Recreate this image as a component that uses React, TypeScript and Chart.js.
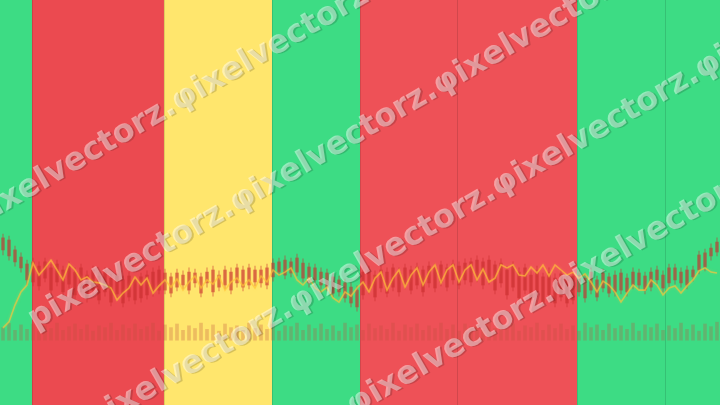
import React, { useEffect, useRef } from "react";
import { Chart, registerables } from "chart.js";

Chart.register(...registerables);

// Regime bands (in candle-index units) and their colours
const bandStarts = [-0.5, 4.83, 26.83, 44.83, 59.5, 95.67];
const bandEnds = [4.83, 26.83, 44.83, 59.5, 95.67, 119.5];
const bandColors = ["#3ddc84", "#eb4a50", "#ffe66d", "#3ddc84", "#ee5157", "#3ddc84"];
const markers = [75.67, 110.33];

const opens = [
  95.7, 95, 91.7, 89.3, 87, 87.7, 86.3, 87.7, 85.7, 87, 85, 86.3, 84.3, 85.7, 83.3, 85, 83, 84.3, 82.3, 83.7, 81.7, 83, 81.7, 82.7, 83.3, 84.3, 85,
  84, 82.7, 84, 83.3, 84.3, 84, 82.7, 84.3, 85, 83.3, 85, 84.3, 85.7, 85, 85.7, 85, 85, 85.7,
  87.3, 87.7, 88.3, 87.7, 89, 87.3, 86, 85.7, 84.3, 84, 82.7, 81.7, 80.7, 79.3, 78.3,
  84.3, 85, 83.3, 85, 84.3, 85.7, 84.3, 85.7, 85, 86, 85, 86.3, 85.7, 86.7, 85.7, 87, 86.3, 87.3, 87.7, 88.3, 87.7, 88.3, 86.7, 87.3, 85, 86.3, 84.3, 85.7, 83.3, 85, 82.7, 84.3, 82.3, 83.7, 81.7, 83,
  83.3, 82.3, 84.3, 81.7, 84, 82.7, 83.3, 84, 82.3, 84.3, 84, 83, 84.3, 85, 83.3, 85.7, 85.7, 84.3, 85, 85, 90, 90.7, 92.3, 94.3,
];
const closes = [
  91.7, 89.7, 87.7, 85.7, 81.7, 81, 79.7, 82.3, 78.3, 81, 77.7, 80.3, 76.7, 79, 75.7, 78.3, 75, 77.7, 74.3, 77, 74, 76, 75, 75.7, 76.7, 77.7, 78.3,
  78.3, 77.3, 79.3, 80, 78.3, 80.7, 77.3, 80.7, 77.7, 79.3, 80, 78.3, 80.7, 79.3, 80, 81, 80.7, 80,
  82.7, 84.3, 83.3, 84, 84.3, 82.3, 80.7, 81.7, 80, 79.3, 77.3, 77.7, 75.7, 74, 72.7,
  76.7, 78.3, 76, 79, 77.3, 79.3, 77.7, 80, 78.3, 80, 77.7, 80.7, 79, 81, 79.3, 81.7, 80, 81.7, 81, 82.3, 80, 81.7, 78.3, 80.7, 76.7, 79.3, 75.7, 78.3, 75, 77.7, 74.3, 76.7, 74, 76, 74, 75,
  77.7, 75.7, 78.3, 76, 79, 77.3, 77.7, 78.3, 77.7, 80, 80, 78.3, 79.3, 81.7, 79, 80.7, 81.7, 80.7, 80, 82.7, 85, 86, 89.7, 91,
];
const highs = [
  97, 96.3, 93, 90.7, 88.3, 89, 87.7, 89, 87, 88.3, 86.3, 87.7, 85.7, 87, 84.7, 86.3, 84.3, 85.7, 83.7, 85, 83, 84.3, 83, 84, 84.7, 85.7, 86.3,
  85.3, 84, 85.3, 84.7, 85.7, 85.3, 84, 85.7, 86.3, 84.7, 86.3, 85.7, 87, 86.3, 87, 86.3, 86.3, 87,
  88.7, 89, 89.7, 89, 90.3, 88.7, 87.3, 87, 85.7, 85.3, 84, 83, 82, 80.7, 79.7,
  85.7, 86.3, 84.7, 86.3, 85.7, 87, 85.7, 87, 86.3, 87.3, 86.3, 87.7, 87, 88, 87, 88.3, 87.7, 88.7, 89, 89.7, 89, 89.7, 88, 88.7, 86.3, 87.7, 85.7, 87, 84.7, 86.3, 84, 85.7, 83.7, 85, 83, 84.3,
  84.7, 83.7, 85.7, 83, 85.3, 84, 84.7, 85.3, 83.7, 85.7, 85.3, 84.3, 85.7, 86.3, 84.7, 87, 87, 85.7, 86.3, 86.3, 91.3, 92, 93.7, 95.7,
];
const lows = [
  90, 88.3, 86.3, 84.3, 80, 79.7, 78.3, 81, 77, 79.7, 76.3, 79, 75.3, 77.7, 74.3, 77, 73.7, 76.3, 73, 75.7, 72.7, 74.7, 73.7, 74.3, 75.3, 76.3, 77,
  77, 76, 78, 78.7, 77, 79.3, 76, 79.3, 76.3, 78, 78.7, 77, 79.3, 78, 78.7, 79.7, 79.3, 78.7,
  81.3, 83, 82, 82.7, 83, 81, 79.3, 80.3, 78.7, 78, 76, 76.3, 74.3, 72.7, 71.3,
  75.3, 77, 74.7, 77.7, 76, 78, 76.3, 78.7, 77, 78.7, 76.3, 79.3, 77.7, 79.7, 78, 80.3, 78.7, 80.3, 79.7, 81, 78.7, 80.3, 77, 79.3, 75.3, 78, 74.3, 77, 73.7, 76.3, 73, 75.3, 72.7, 74.7, 72.7, 73.7,
  76.3, 74.3, 77, 74.7, 77.7, 76, 76.3, 77, 76.3, 78.7, 78.7, 77, 78, 80.3, 77.7, 79.3, 80.3, 79.3, 78.7, 81.3, 83.7, 84.7, 88.3, 89.7,
];
const lineValues = [
  65.7, 67.7, 73.3, 77.7, 80, 87.3, 83.3, 85.7, 88.3, 85, 81.7, 87, 85, 81.7, 82.7, 81, 80.7, 80, 79, 75, 77.3, 79, 82.7, 80, 82.3, 77.3, 79.7,
  81.7, 79.3, 82, 78.3, 81, 83, 79, 81.7, 80.3, 83, 78.3, 81, 82.3, 79.7, 81.7, 79, 83, 81,
  85, 83.3, 84.3, 85.7, 81.7, 80, 82.3, 79, 77.7, 79.3, 75.7, 74.3, 77.7, 76.3, 79,
  81, 77.7, 82.3, 84.3, 78.3, 82.3, 85, 79.3, 83.3, 85.7, 80, 84.3, 86.7, 80.7, 85, 86.7, 81, 85, 86.7, 81.7, 85.3, 81, 82.3, 86.7, 85.7, 86.7, 83.3, 83, 86, 84, 86.7, 83, 86.7, 85, 83.3, 84.3,
  82.3, 83.7, 81, 77.7, 81.3, 80, 77.7, 74.3, 77.3, 80, 78.3, 78.3, 81.7, 80, 76.7, 79, 79.7, 77.3, 79.7, 81.7, 84.7, 85.7, 84.3, 84,
];
const volumes = [
  70, 95, 55, 85, 60, 90, 50, 80, 65, 95, 55, 75, 90, 60, 85, 50, 80, 70, 95, 55, 85, 65, 90, 60, 75, 95, 50, 85, 70, 90,
  55, 80, 65, 95, 60, 85, 50, 90, 70, 80, 55, 95, 65, 85, 60, 90, 50, 80, 75, 95, 55, 85, 65, 90, 60, 80, 50, 95, 70, 85,
  55, 90, 65, 80, 60, 95, 50, 85, 70, 90, 55, 80, 65, 95, 60, 85, 50, 90, 75, 80, 55, 95, 65, 85, 60, 90, 50, 80, 70, 95,
  55, 85, 65, 90, 60, 80, 50, 95, 70, 85, 55, 90, 65, 80, 60, 95, 50, 85, 70, 90, 55, 80, 65, 95, 60, 85, 50, 90, 75, 100,
];
const labels = lineValues.map((_, i) => `D${i + 1}`);

const watermarkText = "pixelvectorz.φixelvectorz.φixelvectorz.φixelvectorz.";
const watermarkRows = [-178, -61, 56, 173];

const bandPlugin = {
  id: "bands",
  beforeDatasetsDraw(chart: any) {
    const { ctx, chartArea: a, scales } = chart;
    const x = scales.x;
    ctx.save();
    bandStarts.forEach((s, i) => {
      const x0 = x.getPixelForValue(s);
      const x1 = x.getPixelForValue(bandEnds[i]);
      ctx.fillStyle = bandColors[i];
      ctx.fillRect(x0, a.top, x1 - x0, a.bottom - a.top);
    });
    ctx.fillStyle = "rgba(0,0,0,0.12)";
    [...bandStarts.slice(1), ...markers].forEach((v) => {
      const px = Math.round(x.getPixelForValue(v));
      ctx.fillRect(px, a.top, 1, a.bottom - a.top);
    });
    ctx.restore();
  },
};

const glowPlugin = {
  id: "glow",
  beforeDatasetDraw(chart: any, args: any) {
    if (args.index !== 0) return;
    const ctx = chart.ctx;
    ctx.save();
    ctx.shadowColor = "rgba(255,210,80,0.45)";
    ctx.shadowBlur = 3;
  },
  afterDatasetDraw(chart: any, args: any) {
    if (args.index !== 0) return;
    chart.ctx.restore();
  },
};

const watermarkPlugin = {
  id: "watermark",
  afterDraw(chart: any) {
    const { ctx } = chart;
    ctx.save();
    ctx.translate(chart.width / 2, chart.height / 2);
    ctx.rotate(-Math.PI / 6);
    ctx.font = 'bold 32px "DejaVu Sans"';
    ctx.textBaseline = "middle";
    watermarkRows.forEach((v) => {
      ctx.fillStyle = "rgba(0,0,0,0.16)";
      ctx.fillText(watermarkText, -345 + 1.5, v + 1.5);
      ctx.fillStyle = "rgba(255,255,255,0.45)";
      ctx.fillText(watermarkText, -345, v);
    });
    ctx.restore();
  },
};

export default function App() {
  const ref = useRef<HTMLCanvasElement>(null);
  useEffect(() => {
    document.body.style.margin = "0";
    const chart = new Chart(ref.current as HTMLCanvasElement, {
      type: "bar",
      data: {
        labels,
        datasets: [
          {
            type: "line",
            data: lineValues,
            borderColor: "rgba(255,195,55,0.65)",
            borderWidth: 1.6,
            pointRadius: 0,
            tension: 0,
            yAxisID: "y",
            order: 0,
          } as any,
          {
            type: "bar",
            data: opens.map((o, i) => [closes[i], o]),
            backgroundColor: "rgba(200,45,45,0.55)",
            barThickness: 3,
            grouped: false,
            yAxisID: "y",
            order: 1,
          } as any,
          {
            type: "bar",
            data: highs.map((h, i) => [lows[i], h]),
            backgroundColor: "rgba(200,45,45,0.35)",
            barThickness: 1,
            grouped: false,
            yAxisID: "y",
            order: 2,
          } as any,
          {
            type: "bar",
            data: volumes,
            backgroundColor: "rgba(190,80,60,0.28)",
            barThickness: 3,
            grouped: false,
            yAxisID: "yv",
            order: 3,
          } as any,
        ],
      },
      options: {
        animation: false,
        responsive: true,
        maintainAspectRatio: false,
        layout: { padding: 0 },
        plugins: { legend: { display: false }, tooltip: { enabled: false } },
        scales: {
          x: { type: "category", display: false, offset: true },
          y: { display: false, min: 40, max: 175 },
          yv: { display: false, min: -360, max: 1890 },
        },
      },
      plugins: [bandPlugin, glowPlugin, watermarkPlugin],
    });
    return () => chart.destroy();
  }, []);
  return (
    <div style={{ width: 720, height: 405, position: "relative" }}>
      <canvas ref={ref} />
    </div>
  );
}
